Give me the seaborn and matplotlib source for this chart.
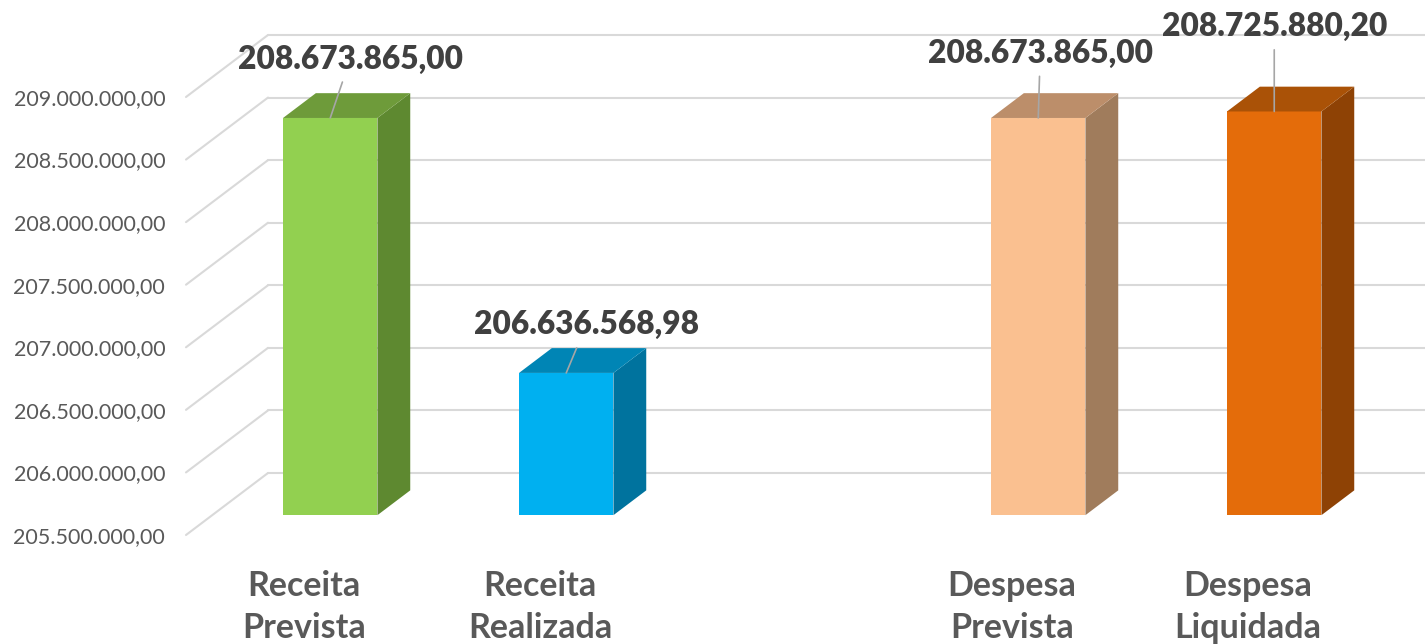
import matplotlib
matplotlib.use("Agg")
import matplotlib.pyplot as plt
import seaborn as sns
import pandas as pd
from matplotlib.patches import Polygon
from matplotlib.ticker import FuncFormatter

# ---- data ----
categories = ["Receita\nPrevista", "Receita\nRealizada", "Despesa\nPrevista", "Despesa\nLiquidada"]
values = [208673865.00, 206636568.98, 208673865.00, 208725880.20]
axis_order = ["Receita\nPrevista", "Receita\nRealizada", " ", "Despesa\nPrevista", "Despesa\nLiquidada"]
y_ticks = [205.5e6, 206.0e6, 206.5e6, 207.0e6, 207.5e6, 208.0e6, 208.5e6, 209.0e6]

# ---- style ----
front_colors = ["#92D050", "#00B0F0", "#FAC090", "#E46C0A"]
side_colors = ["#5E8930", "#00739E", "#A07C5C", "#8E4205"]
top_colors = ["#6E9B3A", "#0085B5", "#BC8E6A", "#AA5207"]
label_offsets = [(20, 59), (20, 48), (2, 65), (0, 85)]  # pixels from bar top
WALL_DX, WALL_DY = 82, 62      # depth of the 3d wall in pixels
BAR_Z0, BAR_DEPTH = 0.32, 0.40  # bar position inside the depth
GRID = "#D9D9D9"


def br_fmt(v, pos=None):
    s = f"{v:,.2f}"
    return s.replace(",", "X").replace(".", ",").replace("X", ".")


sns.set_theme(style="white")
plt.rcParams["font.family"] = ["Lato", "DejaVu Sans"]

fig = plt.figure(figsize=(14.25, 6.44), dpi=100)
ax = fig.add_axes([186 / 1425, 109 / 644, 1180 / 1425, 438 / 644])

df = pd.DataFrame({"cat": categories, "val": values})
sns.barplot(data=df, x="cat", y="val", order=axis_order, width=0.4,
            color=front_colors[0], ax=ax, zorder=3)

base = y_ticks[0]
ax.set_xlim(-0.5, len(axis_order) - 0.5)
ax.set_ylim(base, y_ticks[-1])

# pixel -> data conversion for the depth offsets
px0, py0 = ax.transData.transform((0, base))
px1, _ = ax.transData.transform((1, base))
_, py1 = ax.transData.transform((0, base + 1e6))
dX = WALL_DX / (px1 - px0)
dY = WALL_DY / ((py1 - py0) / 1e6)

# back wall gridlines + left wall diagonals
xl0, xl1 = ax.get_xlim()
for v in y_ticks:
    ax.plot([xl0, xl0 + dX], [v, v + dY], color=GRID, lw=1.5, clip_on=False, zorder=0)
    ax.plot([xl0 + dX, xl1 + 2 * dX], [v + dY, v + dY], color=GRID, lw=1.5,
            clip_on=False, zorder=0)

# 3d bars
bars = sorted(ax.patches, key=lambda p: p.get_x())
for i, p in enumerate(bars):
    top = p.get_y() + p.get_height()
    xl = p.get_x() + BAR_Z0 * dX
    xr = xl + p.get_width()
    b = base + BAR_Z0 * dY
    t = top + BAR_Z0 * dY
    ddx, ddy = BAR_DEPTH * dX, BAR_DEPTH * dY
    p.set_x(xl)
    p.set_y(b)
    p.set_height(t - b)
    p.set_facecolor(front_colors[i])
    p.set_edgecolor("none")
    p.set_clip_on(False)
    ax.add_patch(Polygon([(xr, b), (xr + ddx, b + ddy), (xr + ddx, t + ddy), (xr, t)],
                         closed=True, facecolor=side_colors[i], edgecolor="none",
                         clip_on=False, zorder=3))
    ax.add_patch(Polygon([(xl, t), (xr, t), (xr + ddx, t + ddy), (xl + ddx, t + ddy)],
                         closed=True, facecolor=top_colors[i], edgecolor="none",
                         clip_on=False, zorder=3))
    ax.annotate(br_fmt(top), xy=((xl + xr) / 2, t), xytext=label_offsets[i],
                textcoords="offset pixels", ha="center", va="center",
                fontsize=22.8, fontweight="heavy", color="#404040",
                annotation_clip=False, zorder=5,
                arrowprops=dict(arrowstyle="-", color="#A6A6A6", lw=1.2,
                                shrinkA=4, shrinkB=0))

# axes text
ax.set_yticks(y_ticks)
ax.yaxis.set_major_formatter(FuncFormatter(br_fmt))
ax.tick_params(axis="y", length=0, pad=15, labelsize=15.5, labelcolor="#595959")
ax.tick_params(axis="x", length=0, pad=25.5, labelsize=24.5, labelcolor="#595959")
for lab in ax.get_xticklabels():
    lab.set_fontweight("bold")
    lab.set_linespacing(1.38)
ax.set_xlabel("")
ax.set_ylabel("")
ax.grid(False)
sns.despine(ax=ax, left=True, bottom=True)
ax.set_facecolor("none")

fig.savefig("out.png", dpi=100)
